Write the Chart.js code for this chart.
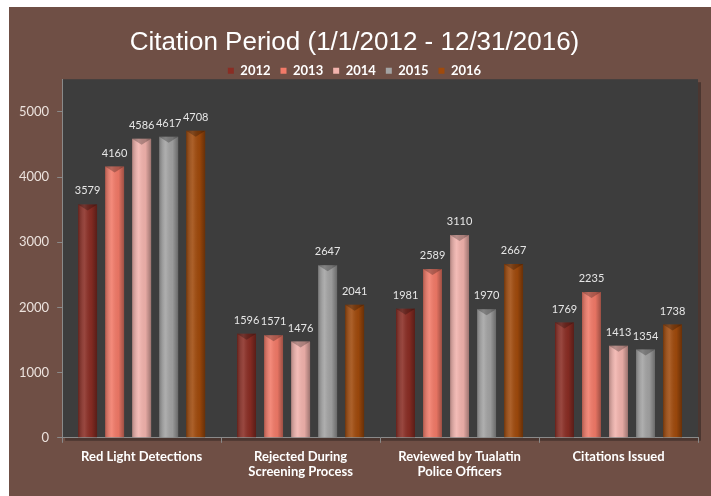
<!DOCTYPE html>
<html lang="en">
    <head>
        <meta charset="UTF-8">
        <title>Citation Period</title>
        <style>
            body { margin: 0; background: #ffffff; }
            .chart-container { position: absolute; left: 9px; top: 7px; width: 702px; height: 489px; background: #6f4f45; }
        </style>
    </head>
    <body>
        <div class="chart-container">
            <canvas id="myChart"></canvas>
        </div>
    </body>
    <script src="https://cdn.jsdelivr.net/npm/chart.js@4.4.0/dist/chart.umd.min.js"></script>
    <script>

        let categories = [
            'Red Light Detections',
            ['Rejected During', 'Screening Process'],
            ['Reviewed by Tualatin', 'Police Officers'],
            'Citations Issued'
        ]
        let years = ['2012', '2013', '2014', '2015', '2016']
        let values2012 = [3579, 1596, 1981, 1769]
        let values2013 = [4160, 1571, 2589, 2235]
        let values2014 = [4586, 1476, 3110, 1413]
        let values2015 = [4617, 2647, 1970, 1354]
        let values2016 = [4708, 2041, 2667, 1738]
        let yTicks = [0, 1000, 2000, 3000, 4000, 5000]

        let colors = ['#8a2d24', '#f27a68', '#f2b3ad', '#a3a3a3', '#a04a0c']
        let allValues = [values2012, values2013, values2014, values2015, values2016]

        // dark plot area behind the bars
        var plotBg = {
            id: 'plotBg',
            afterInit(chart) {
                // legend adds a fixed gap under itself, trim it
                const legend = chart.legend
                const fit = legend.fit
                legend.fit = function() {
                    fit.call(this)
                    this.height -= 8
                }
            },
            beforeDraw(chart) {
                const a = chart.chartArea
                const c = chart.ctx
                c.save()
                c.fillStyle = 'rgba(40,30,28,0.5)'
                c.fillRect(a.left + 3, a.top + 3, a.right - a.left, a.bottom - a.top)
                c.fillStyle = '#3d3d3d'
                c.fillRect(a.left, a.top, a.right - a.left, a.bottom - a.top)
                c.restore()
            }
        }

        // shading on each bar + value labels
        var barLabels = {
            id: 'barLabels',
            afterDatasetsDraw(chart) {
                const c = chart.ctx
                c.save()
                chart.data.datasets.forEach((ds, i) => {
                    chart.getDatasetMeta(i).data.forEach((bar, j) => {
                        const left = bar.x - bar.width / 2
                        const g = c.createLinearGradient(left, 0, left + bar.width, 0)
                        g.addColorStop(0, 'rgba(0,0,0,0.25)')
                        g.addColorStop(0.35, 'rgba(255,255,255,0.12)')
                        g.addColorStop(0.7, 'rgba(0,0,0,0.05)')
                        g.addColorStop(1, 'rgba(0,0,0,0.35)')
                        c.fillStyle = g
                        c.fillRect(left, bar.y, bar.width, bar.base - bar.y)
                        c.fillStyle = 'rgba(0,0,0,0.25)'
                        c.beginPath()
                        c.moveTo(left, bar.y)
                        c.lineTo(left + bar.width, bar.y)
                        c.lineTo(bar.x, bar.y + 6)
                        c.closePath()
                        c.fill()

                        c.fillStyle = '#e6e6e6'
                        c.font = '11px Lato'
                        c.textAlign = 'center'
                        c.textBaseline = 'bottom'
                        c.fillText(ds.data[j], bar.x, bar.y - 8)
                    })
                })
                c.restore()
            }
        }

        const ctx = document.getElementById('myChart')

        var chartData = {
            labels: categories,
            datasets: years.map((y, i) => ({
                label: y,
                data: allValues[i],
                backgroundColor: colors[i],
                categoryPercentage: 0.85,
                barPercentage: 0.7
            }))
        }

        var chartOptions = {
            responsive: true,
            maintainAspectRatio: false,
            animation: false,
            layout: { padding: { left: 2, right: 13, top: 0, bottom: 10 } },
            plugins: {
                title: {
                    display: true,
                    text: 'Citation Period (1/1/2012 - 12/31/2016)',
                    color: '#ffffff',
                    font: { family: 'Liberation Sans', size: 26, weight: 'normal' },
                    padding: { top: 20, bottom: -4 }
                },
                legend: {
                    display: true,
                    position: 'top',
                    labels: {
                        boxWidth: 6,
                        boxHeight: 6,
                        padding: 10,
                        color: '#ffffff',
                        font: { family: 'Lato', size: 13, weight: 'bold' }
                    }
                },
                tooltip: { enabled: false }
            },
            scales: {
                x: {
                    grid: { display: true, drawOnChartArea: false, color: '#8a8a8a', tickLength: 5 },
                    border: { display: true, color: '#8a8a8a' },
                    ticks: { color: '#ffffff', font: { family: 'Lato', size: 13, weight: 'bold' }, padding: 6, maxRotation: 0 }
                },
                y: {
                    min: 0,
                    max: 5500,
                    afterBuildTicks(scale) {
                        scale.ticks = yTicks.map(v => ({ value: v }))
                    },
                    grid: { display: true, drawOnChartArea: false, color: '#8a8a8a', tickLength: 5 },
                    border: { display: true, color: '#8a8a8a' },
                    ticks: {
                        color: '#ece2dd',
                        font: { family: 'Lato', size: 13 },
                        padding: 8,
                        callback: v => String(v)
                    }
                }
            }
        }

        var barChart = new Chart(ctx, {
            type: 'bar',
            data: chartData,
            options: chartOptions,
            plugins: [plotBg, barLabels]
        })
    </script>
</html>
